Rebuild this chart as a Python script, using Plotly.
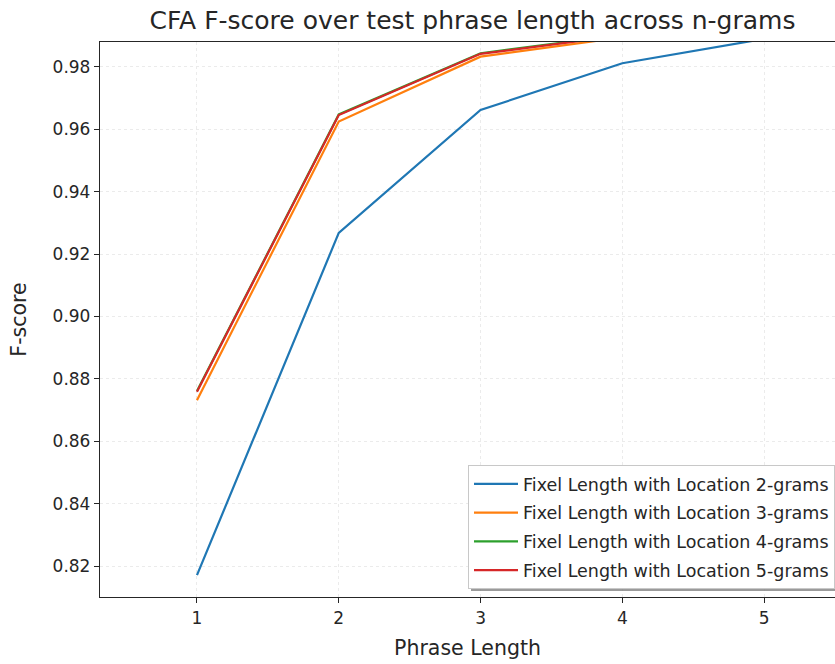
import plotly.graph_objects as go

# Phrase length (x) and CFA F-score for each n-gram model
phrase_length = [1, 2, 3, 4, 5]
fscore_2gram = [0.8171, 0.9268, 0.9662, 0.9812, 0.9890]
fscore_3gram = [0.8732, 0.9625, 0.9833, 0.9895, 0.9915]
fscore_4gram = [0.8761, 0.9648, 0.9844, 0.9903, 0.9922]
fscore_5gram = [0.8759, 0.9646, 0.9842, 0.9901, 0.9920]

series_names = [
    "Fixel Length with Location 2-grams",
    "Fixel Length with Location 3-grams",
    "Fixel Length with Location 4-grams",
    "Fixel Length with Location 5-grams",
]
series_values = [fscore_2gram, fscore_3gram, fscore_4gram, fscore_5gram]
colors = ["#1f77b4", "#ff7f0e", "#2ca02c", "#d62728"]

y_ticks = [0.82, 0.84, 0.86, 0.88, 0.90, 0.92, 0.94, 0.96, 0.98]

W, H = 835, 664
L, T, R, B = 100, 42, 0, 67

fig = go.Figure()
for i, (name, vals, col) in enumerate(zip(series_names, series_values, colors)):
    fig.add_trace(go.Scatter(
        x=phrase_length, y=vals, mode="lines", name=name,
        line=dict(color=col, width=2.2), legendgroup=f"g{i}",
    ))

font = "DejaVu Sans, sans-serif"
pw, ph = W - L - R, H - T - B

def px_x(p):
    return (p - L) / pw

def px_y(p):
    return (H - B - p) / ph

# drop shadow behind the legend box
fig.add_shape(type="rect", xref="paper", yref="paper",
              x0=px_x(471), x1=px_x(850), y0=px_y(591), y1=px_y(476),
              fillcolor="rgba(130,130,130,0.8)", line=dict(width=0), layer="above")

fig.update_layout(
    width=W, height=H,
    margin=dict(l=L, r=R, t=T, b=B),
    paper_bgcolor="white", plot_bgcolor="white",
    font=dict(family=font, size=17, color="#262626"),
    title=dict(text="CFA F-score over test phrase length across n-grams",
               x=472.5 / W, xanchor="center", y=1 - 20 / H, yanchor="middle",
               font=dict(size=25, color="#262626")),
    showlegend=True,
    legend=dict(x=px_x(468), xanchor="left", y=px_y(465), yanchor="top",
                bgcolor="white", bordercolor="#c8c8c8", borderwidth=1,
                font=dict(size=17.5, color="#262626"), tracegroupgap=3,
                itemwidth=44),
)

fig.update_xaxes(
    range=[0.316, 5.5], tickvals=phrase_length, ticktext=[str(v) for v in phrase_length],
    title=dict(text="Phrase Length", standoff=14, font=dict(size=20.5)),
    showline=True, linecolor="#262626", linewidth=1.3, mirror=True,
    ticks="outside", ticklen=5, tickcolor="#262626",
    showgrid=True, gridcolor="#ebebeb", griddash="dot", gridwidth=1, zeroline=False,
    tickfont=dict(size=17),
)
fig.update_yaxes(
    range=[0.8101, 0.988], tickvals=y_ticks, ticktext=[f"{v:.2f}" for v in y_ticks],
    title=dict(text="F-score", standoff=20, font=dict(size=20.5)),
    showline=True, linecolor="#262626", linewidth=1.3, mirror=False,
    ticks="outside", ticklen=5, tickcolor="#262626",
    showgrid=True, gridcolor="#ebebeb", griddash="dot", gridwidth=1, zeroline=False,
    tickfont=dict(size=17),
)

fig.write_html("out.html")
